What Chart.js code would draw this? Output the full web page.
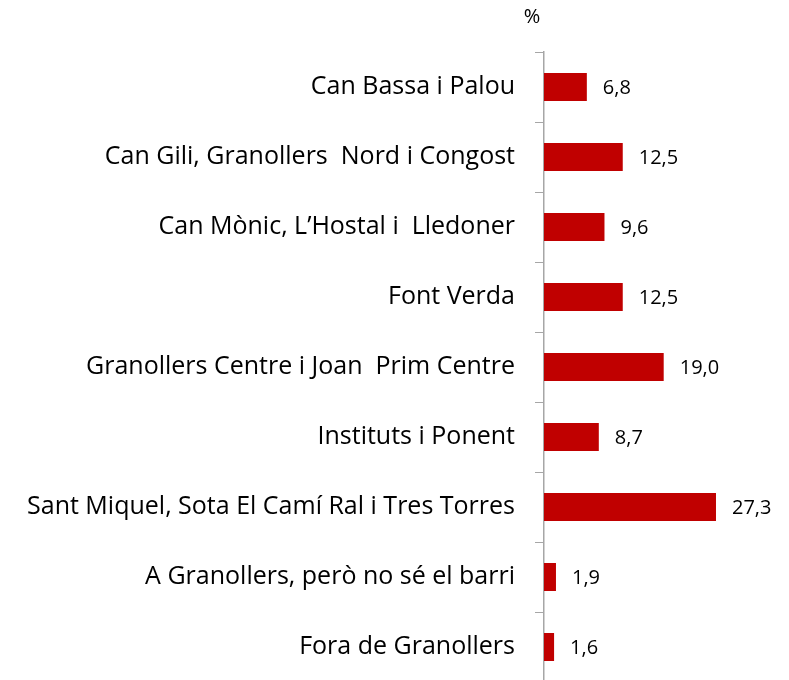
<!DOCTYPE html>
<html>
<head>
<meta charset="utf-8">
<script src="https://cdn.jsdelivr.net/npm/chart.js@4.4.0/dist/chart.umd.min.js"></script>
<style>
  html, body { margin: 0; padding: 0; background: #fff; overflow: hidden; }
  #wrap { width: 789px; height: 682px; }
</style>
</head>
<body>
<div id="wrap"><canvas id="chart"></canvas></div>
<script>
// Barri de residència (%)
const categories = [
  'Can Bassa i Palou',
  'Can Gili, Granollers  Nord i Congost',
  'Can Mònic, L\u2019Hostal i  Lledoner',
  'Font Verda',
  'Granollers Centre i Joan  Prim Centre',
  'Instituts i Ponent',
  'Sant Miquel, Sota El Camí Ral i Tres Torres',
  'A Granollers, però no sé el barri',
  'Fora de Granollers'
]
const values = [6.8, 12.5, 9.6, 12.5, 19.0, 8.7, 27.3, 1.9, 1.6]
const unitLabel = '%'

const FONT = "'Open Sans', sans-serif"
const BAR_COLOR = '#C00000'
const AXIS_COLOR = '#A6A6A6'
const AXIS_X = 544

const fmt = (v) => v.toFixed(1).replace('.', ',')

// value labels to the right of each bar + the "%" unit over the axis
const labelsPlugin = {
  id: 'valueLabels',
  afterDatasetsDraw: (chart) => {
    const ctx = chart.ctx
    const meta = chart.getDatasetMeta(0)
    ctx.save()
    ctx.fillStyle = '#000'
    ctx.font = `20px ${FONT}`
    ctx.textAlign = 'left'
    ctx.textBaseline = 'middle'
    meta.data.forEach((bar, i) => {
      ctx.fillText(fmt(values[i]), bar.x + 16, bar.y + 1)
    })
    ctx.textAlign = 'center'
    ctx.fillText(unitLabel, chart.chartArea.left - 12, 17)
    ctx.restore()
  }
}

new Chart(document.getElementById('chart'), {
  type: 'bar',
  data: {
    labels: categories,
    datasets: [{
      data: values,
      backgroundColor: BAR_COLOR,
      borderWidth: 0,
      barPercentage: 0.4,
      categoryPercentage: 1
    }]
  },
  options: {
    indexAxis: 'y',
    responsive: true,
    maintainAspectRatio: false,
    animation: false,
    layout: { padding: { top: 52, right: 24.5, bottom: 0, left: 0 } },
    plugins: {
      legend: { display: false },
      tooltip: { enabled: false }
    },
    scales: {
      x: {
        display: false,
        min: 0,
        max: 35
      },
      y: {
        afterFit: (scale) => {
          // fixed axis position, no extra room reserved for label overflow
          scale.width = AXIS_X
          scale.paddingTop = 0
          scale.paddingBottom = 0
        },
        grid: {
          display: true,
          drawOnChartArea: false,
          drawTicks: true,
          tickLength: 9,
          color: AXIS_COLOR,
          lineWidth: 1
        },
        border: { display: true, color: AXIS_COLOR, width: 1.5 },
        ticks: {
          color: '#000',
          padding: 20,
          font: { family: FONT, size: 25 }
        }
      }
    }
  },
  plugins: [labelsPlugin]
})
</script>
</body>
</html>
